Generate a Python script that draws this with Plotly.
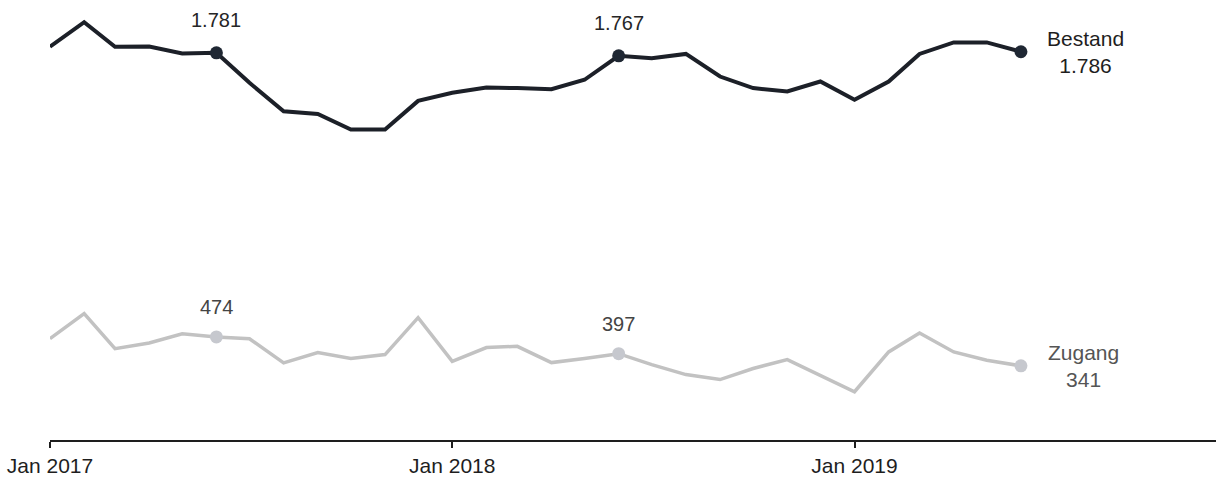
import plotly.graph_objects as go
import pandas as pd

months = pd.date_range("2017-01-01", "2019-06-01", freq="MS").strftime("%Y-%m-%d").tolist()

bestand = [1809, 1922, 1809, 1810, 1778, 1781, 1643, 1512, 1500, 1428,
           1428, 1560, 1597, 1621, 1619, 1614, 1657, 1767, 1756, 1776,
           1672, 1619, 1603, 1649, 1565, 1649, 1776, 1829, 1829, 1786]

zugang = [466, 581, 420, 446, 489, 474, 466, 355, 402, 375,
          393, 563, 362, 425, 431, 356, 375, 397, 347, 301,
          278, 329, 370, 298, 222, 405, 492, 405, 367, 341]

highlight_idx = [5, 17]
tick_vals = ["2017-01-01", "2018-01-01", "2019-01-01"]
tick_text = ["Jan 2017", "Jan 2018", "Jan 2019"]

def fmt_de(v):
    return f"{v:,}".replace(",", ".")

dark = "#1c2028"
dark_marker = "#1f2733"
light = "#c2c2c2"
light_marker = "#c6c8ce"
font_family = "Liberation Sans, Arial, sans-serif"

fig = go.Figure()
fig.add_trace(go.Scatter(x=months, y=bestand, mode="lines",
                         line=dict(color=dark, width=4), hoverinfo="skip"))
fig.add_trace(go.Scatter(x=months, y=zugang, mode="lines",
                         line=dict(color=light, width=3.5), hoverinfo="skip"))

mi = highlight_idx + [len(months) - 1]
fig.add_trace(go.Scatter(x=[months[i] for i in mi], y=[bestand[i] for i in mi],
                         mode="markers", marker=dict(color=dark_marker, size=13),
                         hoverinfo="skip"))
fig.add_trace(go.Scatter(x=[months[i] for i in mi], y=[zugang[i] for i in mi],
                         mode="markers", marker=dict(color=light_marker, size=13),
                         hoverinfo="skip"))

annotations = []
for i in highlight_idx:
    annotations.append(dict(x=months[i], y=bestand[i], text=fmt_de(bestand[i]),
                            showarrow=False, yshift=33, xanchor="center", yanchor="middle",
                            font=dict(size=20, color="#262626", family=font_family)))
    annotations.append(dict(x=months[i], y=zugang[i], text=fmt_de(zugang[i]),
                            showarrow=False, yshift=30, xanchor="center", yanchor="middle",
                            font=dict(size=20, color="#444444", family=font_family)))

last = len(months) - 1
annotations.append(dict(x=months[last], y=bestand[last],
                        text="Bestand<br>" + fmt_de(bestand[last]),
                        showarrow=False, xshift=65, xanchor="center", yanchor="middle",
                        align="center",
                        font=dict(size=21, color="#1e1e1e", family=font_family)))
annotations.append(dict(x=months[last], y=zugang[last],
                        text="Zugang<br>" + fmt_de(zugang[last]),
                        showarrow=False, xshift=63, xanchor="center", yanchor="middle",
                        align="center",
                        font=dict(size=21, color="#555555", family=font_family)))

fig.update_layout(
    width=1216, height=477,
    margin=dict(l=50, r=0, t=0, b=35),
    paper_bgcolor="white", plot_bgcolor="white",
    showlegend=False,
    annotations=annotations,
    font=dict(family=font_family, size=21, color="#1e1e1e"),
    xaxis=dict(range=["2017-01-01", "2019-11-25"], tickvals=tick_vals, ticktext=tick_text,
               showgrid=False, zeroline=False, showline=True, linecolor="#1e1e1e",
               linewidth=1.5, ticks="outside", tickcolor="#1e1e1e", ticklen=6,
               tickwidth=1.5, tickfont=dict(size=21, color="#1e1e1e")),
    yaxis=dict(range=[0, 2024], visible=False, showgrid=False, zeroline=False),
)

fig.write_html("out.html")
